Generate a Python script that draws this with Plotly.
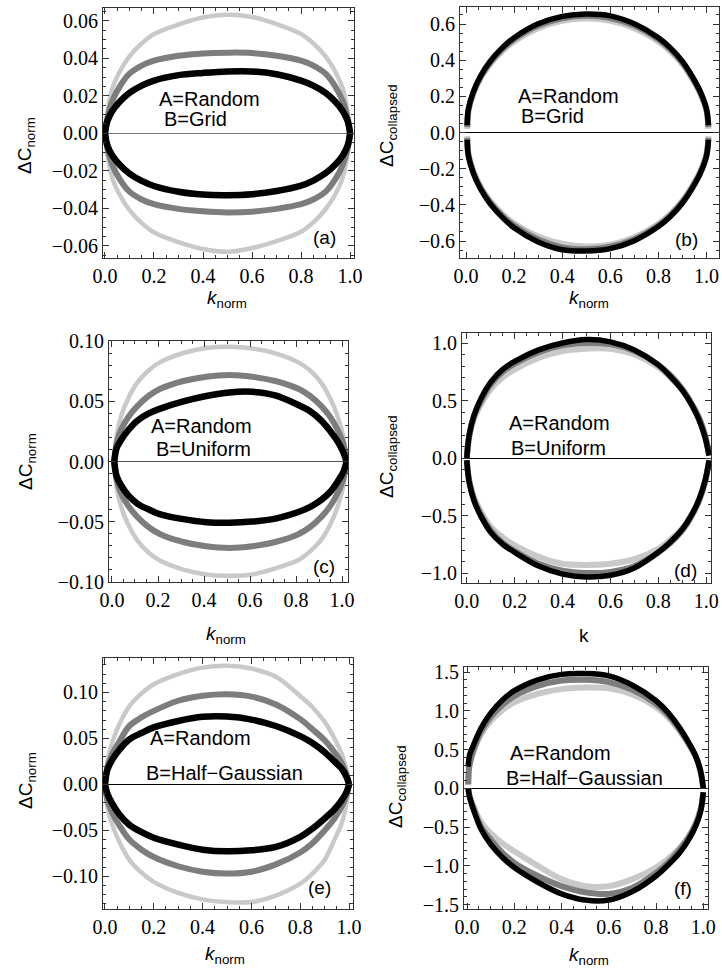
import plotly.graph_objects as go

W, H = 722, 970

# ---------------- data ----------------
K_std = [0, 0.01, 0.03, 0.06, 0.1, 0.15, 0.2, 0.3, 0.4, 0.5, 0.6, 0.7, 0.8, 0.85, 0.9, 0.94, 0.97, 0.99, 1.0]

# panel (a): A=Random, B=Grid, Delta C_norm
k_a = K_std
a_light_up = [0, 0.0113, 0.0239, 0.0328, 0.0410, 0.0479, 0.0529, 0.0580, 0.0617, 0.0632, 0.0620, 0.0582, 0.0529, 0.0479, 0.0410, 0.0328, 0.0239, 0.0113, 0]
a_light_lo = [0, -0.0113, -0.0239, -0.0328, -0.0410, -0.0479, -0.0529, -0.0580, -0.0617, -0.0632, -0.0612, -0.0575, -0.0525, -0.0475, -0.0405, -0.0325, -0.0235, -0.0110, 0]
a_gray_up = [0, 0.0080, 0.0172, 0.0249, 0.0318, 0.0361, 0.0387, 0.0413, 0.0426, 0.0430, 0.0428, 0.0413, 0.0387, 0.0361, 0.0318, 0.0249, 0.0172, 0.0080, 0]
a_gray_lo = [0, -0.0080, -0.0168, -0.0244, -0.0311, -0.0353, -0.0378, -0.0403, -0.0416, -0.0422, -0.0418, -0.0403, -0.0378, -0.0353, -0.0311, -0.0244, -0.0168, -0.0080, 0]
a_black_up = [0, 0.0066, 0.0119, 0.0168, 0.0215, 0.0254, 0.0281, 0.0310, 0.0322, 0.0330, 0.0330, 0.0315, 0.0281, 0.0254, 0.0215, 0.0168, 0.0119, 0.0066, 0]
a_black_lo = [0, -0.0066, -0.0119, -0.0168, -0.0215, -0.0254, -0.0281, -0.0312, -0.0327, -0.0330, -0.0325, -0.0308, -0.0279, -0.0252, -0.0213, -0.0167, -0.0118, -0.0066, 0]

# panel (b): A=Random, B=Grid, Delta C_collapsed
k_b = [0.005, 0.01, 0.03, 0.06, 0.1, 0.15, 0.2, 0.3, 0.4, 0.5, 0.6, 0.7, 0.8, 0.85, 0.9, 0.94, 0.975, 1.0, 1.008]
b_light_up = [0.02, 0.12, 0.212, 0.298, 0.377, 0.449, 0.503, 0.577, 0.617, 0.630, 0.617, 0.577, 0.503, 0.449, 0.377, 0.298, 0.212, 0.12, 0.02]
b_light_lo = [-0.02, -0.12, -0.212, -0.298, -0.377, -0.449, -0.503, -0.575, -0.615, -0.630, -0.620, -0.580, -0.505, -0.450, -0.377, -0.298, -0.212, -0.12, -0.02]
b_gray_up = [0.03, 0.125, 0.22, 0.306, 0.386, 0.46, 0.516, 0.592, 0.632, 0.645, 0.633, 0.592, 0.516, 0.46, 0.386, 0.306, 0.22, 0.125, 0.03]
b_gray_lo = [-0.03, -0.125, -0.22, -0.306, -0.386, -0.46, -0.516, -0.592, -0.635, -0.645, -0.632, -0.590, -0.514, -0.458, -0.384, -0.305, -0.22, -0.125, -0.03]
b_black_up = [0.04, 0.13, 0.223, 0.311, 0.393, 0.468, 0.524, 0.601, 0.642, 0.655, 0.645, 0.601, 0.524, 0.468, 0.393, 0.311, 0.223, 0.13, 0.04]
b_black_lo = [-0.04, -0.13, -0.223, -0.311, -0.393, -0.468, -0.527, -0.605, -0.648, -0.655, -0.642, -0.598, -0.52, -0.465, -0.39, -0.31, -0.223, -0.13, -0.04]

# panel (c): A=Random, B=Uniform, Delta C_norm
k_c = [0.01, 0.02, 0.04, 0.07, 0.11, 0.16, 0.21, 0.31, 0.41, 0.51, 0.61, 0.71, 0.81, 0.86, 0.91, 0.95, 0.98, 1.005, 1.02]
c_light_up = [0, 0.0209, 0.038, 0.0523, 0.0656, 0.076, 0.0827, 0.0903, 0.0945, 0.0955, 0.094, 0.090, 0.0825, 0.076, 0.0655, 0.052, 0.038, 0.021, 0]
c_light_lo = [0, -0.0209, -0.038, -0.0523, -0.0656, -0.076, -0.0827, -0.0900, -0.0940, -0.0950, -0.094, -0.089, -0.0820, -0.075, -0.0650, -0.052, -0.038, -0.021, 0]
c_gray_up = [0, 0.0151, 0.0266, 0.0367, 0.0461, 0.0547, 0.0605, 0.067, 0.0706, 0.072, 0.0706, 0.067, 0.0605, 0.0547, 0.0461, 0.0367, 0.0266, 0.0151, 0]
c_gray_lo = [0, -0.0151, -0.0266, -0.0367, -0.0461, -0.0547, -0.0605, -0.067, -0.0706, -0.072, -0.0706, -0.067, -0.0605, -0.0547, -0.0461, -0.0367, -0.0266, -0.0151, 0]
c_black_up = [0, 0.011, 0.018, 0.026, 0.034, 0.040, 0.044, 0.050, 0.0545, 0.0575, 0.058, 0.055, 0.047, 0.042, 0.034, 0.025, 0.017, 0.008, 0]
c_black_lo = [0, -0.012, -0.020, -0.028, -0.035, -0.040, -0.044, -0.048, -0.0505, -0.051, -0.050, -0.0475, -0.042, -0.038, -0.032, -0.025, -0.017, -0.009, 0]

# panel (d): A=Random, B=Uniform, Delta C_collapsed
k_d = [0, 0.01, 0.03, 0.06, 0.1, 0.15, 0.2, 0.3, 0.4, 0.5, 0.6, 0.7, 0.8, 0.85, 0.9, 0.94, 0.97, 0.995, 1.012]
d_light_up = [0, 0.18, 0.34, 0.47, 0.60, 0.70, 0.77, 0.87, 0.93, 0.95, 0.95, 0.90, 0.79, 0.70, 0.59, 0.46, 0.34, 0.19, 0.03]
d_light_lo = [-0.02, -0.19, -0.34, -0.47, -0.60, -0.69, -0.76, -0.86, -0.92, -0.93, -0.92, -0.88, -0.79, -0.71, -0.61, -0.49, -0.36, -0.20, -0.03]
d_gray_up = [0, 0.19, 0.36, 0.50, 0.64, 0.75, 0.82, 0.92, 0.98, 1.00, 0.99, 0.93, 0.81, 0.72, 0.60, 0.47, 0.35, 0.20, 0.03]
d_gray_lo = [-0.02, -0.20, -0.36, -0.50, -0.63, -0.74, -0.81, -0.92, -0.98, -1.00, -0.99, -0.94, -0.82, -0.74, -0.63, -0.50, -0.37, -0.21, -0.03]
d_black_up = [0.0, 0.20, 0.37, 0.52, 0.66, 0.77, 0.84, 0.94, 1.00, 1.03, 1.01, 0.94, 0.81, 0.71, 0.59, 0.46, 0.33, 0.18, 0.02]
d_black_lo = [-0.02, -0.21, -0.37, -0.51, -0.647, -0.75, -0.82, -0.94, -1.01, -1.035, -1.02, -0.956, -0.82, -0.73, -0.62, -0.49, -0.36, -0.20, -0.02]

# panel (e): A=Random, B=Half-Gaussian, Delta C_norm
k_e = K_std
e_light_up = [0, 0.025, 0.046, 0.066, 0.085, 0.099, 0.109, 0.120, 0.127, 0.129, 0.126, 0.117, 0.096, 0.084, 0.068, 0.050, 0.033, 0.015, 0]
e_light_lo = [0, -0.024, -0.044, -0.063, -0.082, -0.096, -0.106, -0.118, -0.125, -0.128, -0.128, -0.121, -0.108, -0.097, -0.082, -0.060, -0.042, -0.020, 0]
e_gray_up = [0, 0.018, 0.033, 0.047, 0.0636, 0.073, 0.080, 0.091, 0.0964, 0.098, 0.0955, 0.087, 0.071, 0.060, 0.048, 0.035, 0.023, 0.010, 0]
e_gray_lo = [0, -0.017, -0.031, -0.045, -0.060, -0.071, -0.079, -0.089, -0.095, -0.097, -0.095, -0.087, -0.074, -0.064, -0.050, -0.037, -0.024, -0.011, 0]
e_black_up = [0, 0.016, 0.027, 0.038, 0.049, 0.056, 0.062, 0.069, 0.0735, 0.0738, 0.0705, 0.0635, 0.0525, 0.045, 0.035, 0.025, 0.017, 0.008, 0]
e_black_lo = [0, -0.010, -0.021, -0.033, -0.044, -0.052, -0.058, -0.0655, -0.071, -0.0728, -0.0716, -0.068, -0.057, -0.048, -0.037, -0.027, -0.017, -0.008, 0]

# panel (f): A=Random, B=Half-Gaussian, Delta C_collapsed
k_f = [0.005, 0.01, 0.03, 0.06, 0.1, 0.15, 0.2, 0.3, 0.4, 0.5, 0.6, 0.7, 0.8, 0.85, 0.9, 0.94, 0.97, 0.99, 1.0]
f_light_up = [0.05, 0.28, 0.50, 0.70, 0.87, 1.01, 1.11, 1.22, 1.28, 1.30, 1.29, 1.21, 1.05, 0.92, 0.74, 0.56, 0.40, 0.20, 0.0]
f_light_lo = [0.0, -0.09, -0.25, -0.44, -0.58, -0.71, -0.81, -1.00, -1.17, -1.26, -1.26, -1.17, -1.02, -0.91, -0.77, -0.61, -0.44, -0.25, -0.05]
f_gray_up = [0.05, 0.30, 0.52, 0.74, 0.92, 1.08, 1.19, 1.32, 1.39, 1.40, 1.37, 1.27, 1.09, 0.95, 0.76, 0.57, 0.40, 0.20, 0.0]
f_gray_lo = [0.0, -0.10, -0.28, -0.50, -0.66, -0.83, -0.96, -1.13, -1.26, -1.34, -1.36, -1.28, -1.09, -0.96, -0.79, -0.62, -0.45, -0.26, -0.05]
f_black_up = [0.28, 0.42, 0.58, 0.78, 0.97, 1.14, 1.26, 1.40, 1.47, 1.48, 1.45, 1.33, 1.13, 0.98, 0.78, 0.58, 0.40, 0.20, 0.0]
f_black_lo = [0.0, -0.10, -0.30, -0.53, -0.72, -0.89, -1.02, -1.21, -1.36, -1.44, -1.44, -1.33, -1.13, -0.99, -0.83, -0.65, -0.47, -0.28, -0.05]

labels_A = ["A=Random"] * 6
labels_B = ["B=Grid", "B=Grid", "B=Uniform", "B=Uniform", "B=Half\u2212Gaussian", "B=Half\u2212Gaussian"]
panel_tags = ["(a)", "(b)", "(c)", "(d)", "(e)", "(f)"]
y_titles = ["\u0394C<sub>norm</sub>", "\u0394C<sub>collapsed</sub>"] * 3
x_titles = ["<i>k</i><sub>norm</sub>", "<i>k</i><sub>norm</sub>", "<i>k</i><sub>norm</sub>", "k",
            "<i>k</i><sub>norm</sub>", "<i>k</i><sub>norm</sub>"]

# ---------------- layout / styling ----------------
LIGHT, GRAY, BLACK = "#c9c9c9", "#7d7d7d", "#000000"

panels = [
    dict(k=k_a, series=[(a_light_up, a_light_lo, LIGHT, 4.5), (a_gray_up, a_gray_lo, GRAY, 6), (a_black_up, a_black_lo, BLACK, 6.5)],
         box=(103, 354, 8, 258), xr=[-0.008, 1.016], yr=[-0.0665, 0.0668], ydt=0.02, ymin=0.005, yfmt=".2f",
         A=(0.212, 0.0185), B=(0.233, 0.0078), tag=(338, 237), yt=(26, 146), xt=(227, 299), zc="#777777"),
    dict(k=k_b, series=[(b_light_up, b_light_lo, LIGHT, 6), (b_gray_up, b_gray_lo, GRAY, 6), (b_black_up, b_black_lo, BLACK, 5.5)],
         box=(460, 719, 7, 258), xr=[-0.025, 1.052], yr=[-0.694, 0.694], ydt=0.2, ymin=0.05, yfmt=".1f",
         A=(0.208, 0.20), B=(0.222, 0.09), tag=(700, 239), yt=(388, 126), xt=(589, 299), zc="black"),
    dict(k=k_c, series=[(c_light_up, c_light_lo, LIGHT, 4.5), (c_gray_up, c_gray_lo, GRAY, 6), (c_black_up, c_black_lo, BLACK, 6.5)],
         box=(109, 348, 341, 582), xr=[-0.013, 1.026], yr=[-0.1003, 0.1003], ydt=0.05, ymin=0.01, yfmt=".2f",
         A=(0.163, 0.0295), B=(0.182, 0.0104), tag=(337, 566), yt=(27, 461), xt=(226, 635), zc="#555555"),
    dict(k=k_d, series=[(d_light_up, d_light_lo, LIGHT, 6), (d_gray_up, d_gray_lo, GRAY, 6), (d_black_up, d_black_lo, BLACK, 5.5)],
         box=(462, 711, 333, 583), xr=[-0.02, 1.02], yr=[-1.087, 1.087], ydt=0.5, ymin=0.1, yfmt=".1f",
         A=(0.166, 0.304), B=(0.177, 0.087), tag=(699, 570), yt=(388, 457), xt=(584, 635), zc="black"),
    dict(k=k_e, series=[(e_light_up, e_light_lo, LIGHT, 4.5), (e_gray_up, e_gray_lo, GRAY, 6), (e_black_up, e_black_lo, BLACK, 6.5)],
         box=(103, 353, 658, 909), xr=[-0.008, 1.016], yr=[-0.1355, 0.1375], ydt=0.05, ymin=0.01, yfmt=".2f",
         A=(0.178, 0.0508), B=(0.16, 0.0127), tag=(333, 887), yt=(27, 780), xt=(225, 955), zc="black"),
    dict(k=k_f, series=[(f_light_up, f_light_lo, LIGHT, 6), (f_gray_up, f_gray_lo, GRAY, 6), (f_black_up, f_black_lo, BLACK, 5.5)],
         box=(464, 708, 667, 909), xr=[-0.013, 1.02], yr=[-1.555, 1.565], ydt=0.5, ymin=0.1, yfmt=".1f",
         A=(0.172, 0.45), B=(0.155, 0.13), tag=(694, 888), yt=(397, 787), xt=(589, 956), zc="black"),
]

TICKFONT = dict(family="Liberation Serif, Times New Roman, serif", size=20, color="black")
SANS = "Liberation Sans, Arial, sans-serif"

fig = go.Figure()
annotations = []
layout_axes = {}

for i, p in enumerate(panels):
    n = i + 1
    xa = "x" if n == 1 else f"x{n}"
    ya = "y" if n == 1 else f"y{n}"
    for up, lo, col, wdt in p["series"]:
        for vals in (up, lo):
            fig.add_trace(go.Scatter(
                x=p["k"], y=vals, mode="lines",
                line=dict(color=col, width=wdt, shape="spline", smoothing=1.0),
                xaxis=xa, yaxis=ya, showlegend=False, hoverinfo="skip"))
    l, r, t, b = p["box"]
    common = dict(showgrid=False, showline=True, linecolor="#333333", linewidth=1, automargin=False,
                  mirror="allticks", ticks="inside", ticklen=6, tickwidth=1, tickcolor="#333333",
                  tickfont=TICKFONT, ticklabeloverflow="allow")
    layout_axes["xaxis" if n == 1 else f"xaxis{n}"] = dict(
        domain=[l / W, r / W], anchor=ya, range=p["xr"], dtick=0.2, tick0=0, tickformat=".1f",
        zeroline=False,
        minor=dict(ticks="inside", ticklen=3, dtick=0.05, tick0=0, tickcolor="#333333", showgrid=False),
        **common)
    layout_axes["yaxis" if n == 1 else f"yaxis{n}"] = dict(
        domain=[1 - b / H, 1 - t / H], anchor=xa, range=p["yr"], dtick=p["ydt"], tick0=0,
        tickformat=p["yfmt"], zeroline=True, zerolinecolor=p["zc"], zerolinewidth=1,
        minor=dict(ticks="inside", ticklen=3, dtick=p["ymin"], tick0=0, tickcolor="#333333", showgrid=False),
        **common)
    annotations.append(dict(x=p["A"][0], y=p["A"][1], xref=xa, yref=ya, text=labels_A[i],
                            showarrow=False, xanchor="left", yanchor="middle",
                            font=dict(family=SANS, size=20, color="black")))
    annotations.append(dict(x=p["B"][0], y=p["B"][1], xref=xa, yref=ya, text=labels_B[i],
                            showarrow=False, xanchor="left", yanchor="middle",
                            font=dict(family=SANS, size=20, color="black")))
    annotations.append(dict(x=p["tag"][0] / W, y=1 - p["tag"][1] / H, xref="paper", yref="paper",
                            text=panel_tags[i], showarrow=False, xanchor="right", yanchor="middle",
                            font=dict(family=SANS, size=19, color="black")))
    annotations.append(dict(x=p["yt"][0] / W, y=1 - p["yt"][1] / H, xref="paper", yref="paper",
                            text=y_titles[i], showarrow=False, textangle=-90,
                            xanchor="center", yanchor="middle",
                            font=dict(family=SANS, size=19, color="black")))
    annotations.append(dict(x=p["xt"][0] / W, y=1 - p["xt"][1] / H, xref="paper", yref="paper",
                            text=x_titles[i], showarrow=False,
                            xanchor="center", yanchor="middle",
                            font=dict(family=SANS, size=19, color="black")))

fig.update_layout(
    template="none",
    width=W, height=H, margin=dict(l=0, r=0, t=0, b=0, pad=0, autoexpand=False),
    paper_bgcolor="white", plot_bgcolor="white",
    annotations=annotations, **layout_axes)

fig.write_html("out.html", config={"responsive": False, "displayModeBar": False},
               post_script="document.body.style.margin='0';document.body.style.overflow='hidden';")
